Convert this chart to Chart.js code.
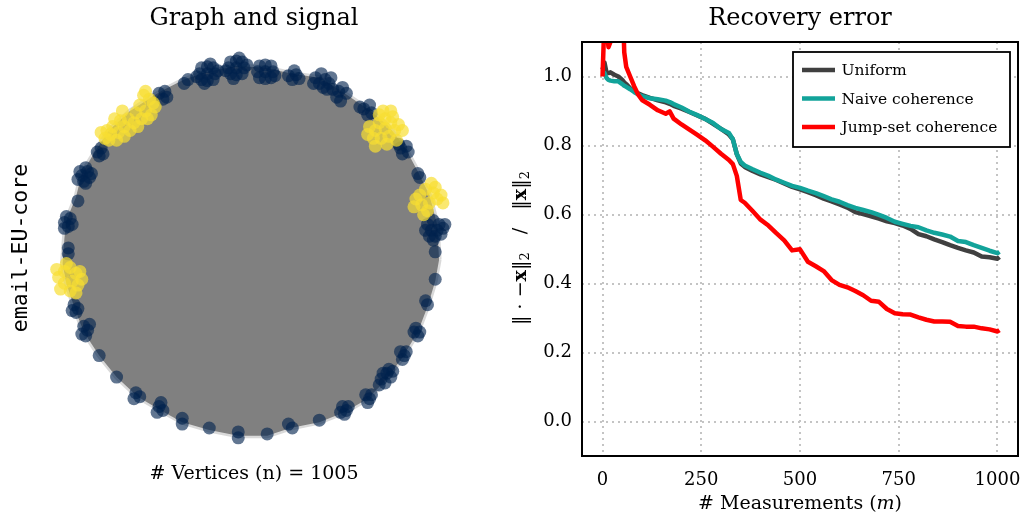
<!DOCTYPE html>
<html><head><meta charset="utf-8">
<script src="https://cdn.jsdelivr.net/npm/chart.js@4"></script>
<style>
html,body{margin:0;padding:0;background:#fff;}
#wrap{position:relative;width:1026px;height:524px;overflow:hidden;}
canvas{position:absolute;top:0;}
#g{left:0;} #r{left:490px;}
</style></head><body>
<div id="wrap"><canvas id="g" width="490" height="524"></canvas><canvas id="r" width="536" height="524"></canvas></div>
<script>
// ---------- Recovery error data ----------
const measurements = [0,5,10,15,20,30,40,50,55,60,70,80,90,100,120,140,160,170,180,200,220,240,260,280,300,320,330,340,350,360,380,400,420,440,460,480,500,520,540,560,580,600,620,640,660,680,700,720,740,760,780,800,820,840,860,880,900,920,940,960,980,1000,1005];
const uniformErr = [1.02,1.04,1.012,1.01,1.012,1.005,1.0,0.99,0.983,0.978,0.966,0.958,0.951,0.946,0.938,0.931,0.925,0.921,0.915,0.907,0.897,0.887,0.877,0.863,0.848,0.832,0.818,0.775,0.748,0.738,0.726,0.716,0.708,0.70,0.69,0.68,0.673,0.665,0.656,0.646,0.638,0.629,0.62,0.607,0.601,0.595,0.588,0.58,0.575,0.568,0.558,0.543,0.537,0.528,0.52,0.511,0.503,0.496,0.49,0.478,0.476,0.472,0.477];
const naiveErr = [1.015,1.01,0.996,0.99,0.988,0.986,0.986,0.978,0.973,0.97,0.963,0.955,0.948,0.943,0.937,0.934,0.93,0.926,0.92,0.91,0.898,0.888,0.877,0.865,0.848,0.836,0.818,0.775,0.752,0.742,0.731,0.721,0.712,0.701,0.692,0.683,0.677,0.669,0.662,0.653,0.644,0.637,0.627,0.619,0.613,0.607,0.599,0.59,0.579,0.573,0.567,0.563,0.554,0.547,0.542,0.536,0.523,0.52,0.511,0.503,0.495,0.488,0.492];
const jumpErr = [1.0,1.17,1.15,1.085,1.1,1.3,1.4,1.25,1.07,1.028,1.0,0.972,0.948,0.932,0.918,0.902,0.892,0.899,0.878,0.861,0.846,0.831,0.815,0.796,0.776,0.758,0.746,0.712,0.642,0.634,0.61,0.585,0.568,0.546,0.525,0.496,0.499,0.463,0.45,0.436,0.41,0.396,0.389,0.378,0.366,0.35,0.347,0.326,0.314,0.311,0.31,0.302,0.295,0.29,0.29,0.289,0.277,0.275,0.275,0.27,0.267,0.261,0.265];
const seriesNames = ['Uniform','Naive coherence','Jump-set coherence'];
const xTicks = [0,250,500,750,1000];
const yTicks = [0,0.2,0.4,0.6,0.8,1.0];

// ---------- Graph layout data (node positions, unit-circle layout) ----------
const navyNodes = [
[-0.35,0.84],[-0.33,0.86],
[-0.23,0.89],[-0.27,0.89],[-0.19,0.89],[-0.23,0.925],[-0.23,0.855],[-0.20,0.92],[-0.26,0.92],[-0.20,0.86],[-0.26,0.86],[-0.285,0.875],[-0.175,0.905],[-0.215,0.94],[-0.245,0.84],
[-0.08,0.92],[-0.12,0.92],[-0.04,0.92],[-0.08,0.955],[-0.08,0.885],[-0.05,0.95],[-0.11,0.95],[-0.05,0.89],[-0.11,0.89],[-0.135,0.905],[-0.025,0.935],[-0.065,0.97],[-0.095,0.865],
[0.07,0.90],[0.03,0.90],[0.11,0.90],[0.07,0.935],[0.07,0.865],[0.10,0.93],[0.04,0.93],[0.10,0.87],[0.04,0.87],[0.12,0.88],
[0.19,0.88],[0.23,0.885],[0.21,0.86],[0.22,0.905],[0.245,0.865],
[0.33,0.87],[0.36,0.89],[0.38,0.86],[0.35,0.84],[0.40,0.84],[0.42,0.81],[0.45,0.80],[0.47,0.82],[0.44,0.77],[0.39,0.81],[0.37,0.82],[0.49,0.79],[0.46,0.75],[0.41,0.87],[0.32,0.84],
[0.58,0.71],[0.61,0.73],[0.62,0.69],[0.60,0.68],[0.56,0.72],
[0.77,0.51],[0.80,0.52],[0.81,0.49],[0.78,0.48],[0.76,0.53],
[0.86,0.38],[0.87,0.36],
[0.91,0.12],[0.94,0.14],[0.97,0.12],[0.93,0.09],[0.96,0.09],[0.99,0.10],[0.92,0.06],[0.95,0.06],[0.98,0.07],[0.90,0.09],[0.94,0.04],[1.0,0.12],
[0.95,-0.02],[0.95,-0.16],
[0.91,-0.29],[0.90,-0.27],
[0.85,-0.41],[0.87,-0.43],[0.86,-0.45],[0.84,-0.43],
[0.77,-0.53],[0.79,-0.55],[0.78,-0.57],[0.80,-0.53],
[0.67,-0.67],[0.70,-0.64],[0.72,-0.66],[0.69,-0.69],[0.71,-0.62],[0.66,-0.70],[0.73,-0.63],[0.68,-0.64],
[0.59,-0.75],[0.61,-0.77],[0.60,-0.79],[0.62,-0.75],
[0.47,-0.81],[0.49,-0.83],[0.48,-0.85],[0.46,-0.84],[0.50,-0.81],
[0.35,-0.88],
[0.19,-0.90],[0.21,-0.92],
[0.08,-0.95],
[-0.07,-0.94],[-0.07,-0.97],
[-0.22,-0.92],
[-0.36,-0.87],[-0.36,-0.90],
[-0.48,-0.81],[-0.46,-0.83],[-0.49,-0.84],[-0.47,-0.79],
[-0.60,-0.74],[-0.58,-0.76],[-0.61,-0.77],
[-0.70,-0.66],
[-0.79,-0.55],
[-0.87,-0.40],[-0.85,-0.42],[-0.86,-0.45],[-0.88,-0.44],[-0.84,-0.39],
[-0.92,-0.29],[-0.90,-0.31],[-0.91,-0.33],[-0.93,-0.32],
[-0.95,0.00],[-0.95,-0.03],
[-0.97,0.13],[-0.94,0.15],[-0.95,0.11],[-0.93,0.12],[-0.96,0.16],[-0.97,0.10],
[-0.90,0.24],
[-0.88,0.37],[-0.85,0.39],[-0.84,0.36],[-0.87,0.34],[-0.89,0.39],[-0.86,0.41],[-0.83,0.38],[-0.90,0.35],[-0.86,0.33],
[-0.80,0.49],[-0.78,0.51],[-0.79,0.47],[-0.77,0.48],
[-0.48,0.79],[-0.45,0.80],[-0.46,0.76],[-0.44,0.77]
];
const yellowNodes = [
[-0.53,0.76],[-0.56,0.78],[-0.50,0.72],[-0.52,0.68],[-0.55,0.70],[-0.58,0.73],[-0.57,0.66],[-0.60,0.69],[-0.61,0.64],[-0.64,0.66],
[-0.66,0.62],[-0.68,0.65],[-0.69,0.59],[-0.72,0.62],[-0.73,0.58],[-0.75,0.60],[-0.70,0.55],[-0.66,0.57],[-0.76,0.56],
[-0.51,0.74],[-0.54,0.66],[-0.59,0.62],[-0.63,0.60],[-0.71,0.66],[-0.74,0.55],[-0.78,0.59],[-0.67,0.70],[-0.55,0.80],
[0.64,0.60],[0.66,0.64],[0.69,0.66],[0.72,0.64],[0.74,0.60],[0.71,0.57],[0.67,0.56],[0.69,0.61],[0.63,0.56],[0.73,0.67],[0.76,0.63],[0.70,0.53],[0.66,0.68],[0.61,0.62],
[0.60,0.58],[0.78,0.60],[0.75,0.55],[0.68,0.70],[0.64,0.52],[0.72,0.70],
[0.87,0.27],[0.90,0.30],[0.94,0.28],[0.96,0.25],[0.92,0.23],[0.88,0.22],[0.91,0.19],[0.85,0.25],[0.95,0.31],[0.98,0.27],
[0.84,0.21],[0.93,0.33],[0.99,0.23],[0.89,0.17],
[-0.97,-0.12],[-0.94,-0.10],[-0.91,-0.13],[-0.93,-0.17],[-0.97,-0.18],[-1.00,-0.15],[-0.90,-0.19],[-0.94,-0.22],[-0.89,-0.12],
[-1.01,-0.11],[-0.96,-0.08],[-0.88,-0.16],[-0.99,-0.21],[-0.91,-0.23]
];
const hullUpper = [[-0.98,-0.08],[-0.97,0.05],[-0.96,0.14],[-0.91,0.26],[-0.88,0.38],[-0.80,0.51],[-0.74,0.60],[-0.63,0.70],[-0.52,0.77],[-0.47,0.80],[-0.35,0.86],[-0.23,0.90],[-0.08,0.93],[0.07,0.92],[0.21,0.89],[0.35,0.87],[0.45,0.81],[0.60,0.71],[0.70,0.63],[0.79,0.52],[0.86,0.39],[0.92,0.27],[0.96,0.12],[0.97,-0.06]];
const hullLower = [[-0.98,-0.08],[-0.96,-0.18],[-0.92,-0.30],[-0.87,-0.43],[-0.79,-0.55],[-0.70,-0.66],[-0.59,-0.76],[-0.47,-0.83],[-0.36,-0.89],[-0.22,-0.93],[-0.07,-0.96],[0.08,-0.96],[0.20,-0.92],[0.35,-0.89],[0.48,-0.84],[0.60,-0.77],[0.70,-0.67],[0.78,-0.56],[0.86,-0.43],[0.91,-0.30],[0.95,-0.17],[0.97,-0.06]];

// ---------- helpers ----------
const SERIF = '"DejaVu Serif", serif';
Chart.defaults.font.family = SERIF;
Chart.defaults.color = '#000';
const toPt = p => ({x: p[0], y: p[1]});
const toXY = vals => measurements.map((m, i) => ({x: m, y: vals[i]}));

function drawRich(ctx, parts, x, y, rot) {
  ctx.save();
  ctx.translate(x, y);
  ctx.rotate(rot || 0);
  ctx.textBaseline = 'middle';
  ctx.textAlign = 'left';
  ctx.fillStyle = '#000';
  let total = 0;
  const widths = parts.map(p => { ctx.font = p.font; const w = ctx.measureText(p.t).width; total += w; return w; });
  let cx = -total / 2;
  parts.forEach((p, i) => { ctx.font = p.font; ctx.fillText(p.t, cx, p.dy || 0); cx += widths[i]; });
  ctx.restore();
}

// ---------- Left: graph and signal ----------
const graphText = {
  id: 'graphText',
  afterDraw(chart) {
    const ctx = chart.ctx;
    drawRich(ctx, [{t: 'Graph and signal', font: '24px ' + SERIF}], 254, 19, 0);
    drawRich(ctx, [{t: '# Vertices (n) = 1005', font: '19px ' + SERIF}], 254, 474, 0);
    drawRich(ctx, [{t: 'email-EU-core', font: '21.5px "DejaVu Sans Mono", monospace'}], 21, 248, -Math.PI / 2);
  }
};
new Chart(document.getElementById('g'), {
  type: 'line',
  data: {datasets: [
    {data: yellowNodes.map(toPt), showLine: false, pointRadius: 6.5, pointBorderWidth: 0,
     pointBackgroundColor: 'rgba(248,222,50,0.7)', clip: false, order: 0},
    {data: navyNodes.map(toPt), showLine: false, pointRadius: 6.5, pointBorderWidth: 0,
     pointBackgroundColor: 'rgba(0,34,78,0.62)', clip: false, order: 1},
    {data: hullUpper.map(toPt), pointRadius: 0, borderColor: 'rgba(128,128,128,0.3)', borderWidth: 5,
     fill: false, tension: 0, clip: false, order: 2},
    {data: hullLower.map(toPt), pointRadius: 0, borderColor: 'rgba(128,128,128,0.3)', borderWidth: 5,
     fill: '-1', backgroundColor: '#808080', tension: 0, clip: false, order: 3}
  ]},
  options: {
    responsive: false, animation: false, events: [],
    layout: {padding: {left: 20, right: 0, top: 42, bottom: 68}},
    plugins: {legend: {display: false}, tooltip: {enabled: false}},
    scales: {
      x: {type: 'linear', display: false, min: -1.2, max: 1.2},
      y: {type: 'linear', display: false, min: -1.063, max: 1.052}
    }
  },
  plugins: [graphText]
});

// ---------- Right: recovery error ----------
const S = '19px ' + SERIF, B = 'bold 19px ' + SERIF, SUB = '13px ' + SERIF;
const recoveryDecor = {
  id: 'recoveryDecor',
  afterDatasetsDraw(chart) {
    const {ctx, chartArea: a} = chart;
    ctx.save();
    ctx.strokeStyle = '#000';
    ctx.lineWidth = 2;
    ctx.strokeRect(a.left, a.top, a.right - a.left, a.bottom - a.top);
    // legend
    const bw = 217, bh = 95, bx = a.right - 8 - bw, by = a.top + 10;
    ctx.fillStyle = '#fff';
    ctx.fillRect(bx, by, bw, bh);
    ctx.lineWidth = 1.8;
    ctx.strokeRect(bx, by, bw, bh);
    chart.data.datasets.forEach((ds, i) => {
      const y = by + 18 + i * 28.5;
      ctx.strokeStyle = ds.borderColor;
      ctx.lineWidth = 4.5;
      ctx.beginPath(); ctx.moveTo(bx + 9, y); ctx.lineTo(bx + 42, y); ctx.stroke();
      ctx.fillStyle = '#000';
      ctx.font = '15.5px ' + SERIF;
      ctx.textBaseline = 'middle';
      ctx.textAlign = 'left';
      ctx.fillText(ds.label, bx + 48.5, y + 1);
    });
    ctx.restore();
    const cx = (a.left + a.right) / 2;
    drawRich(ctx, [{t: 'Recovery error', font: '24px ' + SERIF}], cx, 19, 0);
    drawRich(ctx, [{t: '# Measurements (', font: S}, {t: 'm', font: 'italic ' + S}, {t: ')', font: S}], cx, 504, 0);
    drawRich(ctx, [
      {t: '\u2016 \u00b7 \u2212', font: S}, {t: 'x', font: B}, {t: '\u2016', font: S}, {t: '2', font: SUB, dy: 5},
      {t: '   /   ', font: S},
      {t: '\u2016', font: S}, {t: 'x', font: B}, {t: '\u2016', font: S}, {t: '2', font: SUB, dy: 5}
    ], 31, 248, -Math.PI / 2);
  }
};
const gridOpts = {color: '#c4c4c4', lineWidth: 2, drawTicks: false};
new Chart(document.getElementById('r'), {
  type: 'line',
  data: {datasets: [
    {label: seriesNames[0], data: toXY(uniformErr), borderColor: '#404040', order: 3},
    {label: seriesNames[1], data: toXY(naiveErr), borderColor: '#12a39a', order: 2},
    {label: seriesNames[2], data: toXY(jumpErr), borderColor: '#ff0000', order: 1}
  ]},
  options: {
    responsive: false, animation: false, events: [],
    layout: {padding: {left: 0, right: 8, top: 42, bottom: 0}},
    elements: {
      line: {borderWidth: 4.5, tension: 0, borderJoinStyle: 'round', borderCapStyle: 'butt', fill: false},
      point: {radius: 0}
    },
    datasets: {line: {clip: 0}},
    plugins: {legend: {display: false}, tooltip: {enabled: false}},
    scales: {
      x: {type: 'linear', min: -52, max: 1052,
          afterBuildTicks: s => { s.ticks = xTicks.map(v => ({value: v})); },
          ticks: {font: {size: 18}, color: '#000', padding: 14, maxRotation: 0, autoSkip: false, callback: v => String(v)},
          grid: gridOpts, border: {display: false, dash: [2, 4]},
          afterFit: s => { s.height = 68; s.paddingLeft = 0; s.paddingRight = 0; }},
      y: {type: 'linear', min: -0.1, max: 1.1,
          afterBuildTicks: s => { s.ticks = yTicks.map(v => ({value: v})); },
          ticks: {font: {size: 18}, color: '#000', padding: 10, callback: v => Number(v).toFixed(1)},
          grid: gridOpts, border: {display: false, dash: [2, 4]},
          afterFit: s => { s.width = 92; s.paddingTop = 0; s.paddingBottom = 0; }}
    }
  },
  plugins: [recoveryDecor]
});
</script>
</body></html>
